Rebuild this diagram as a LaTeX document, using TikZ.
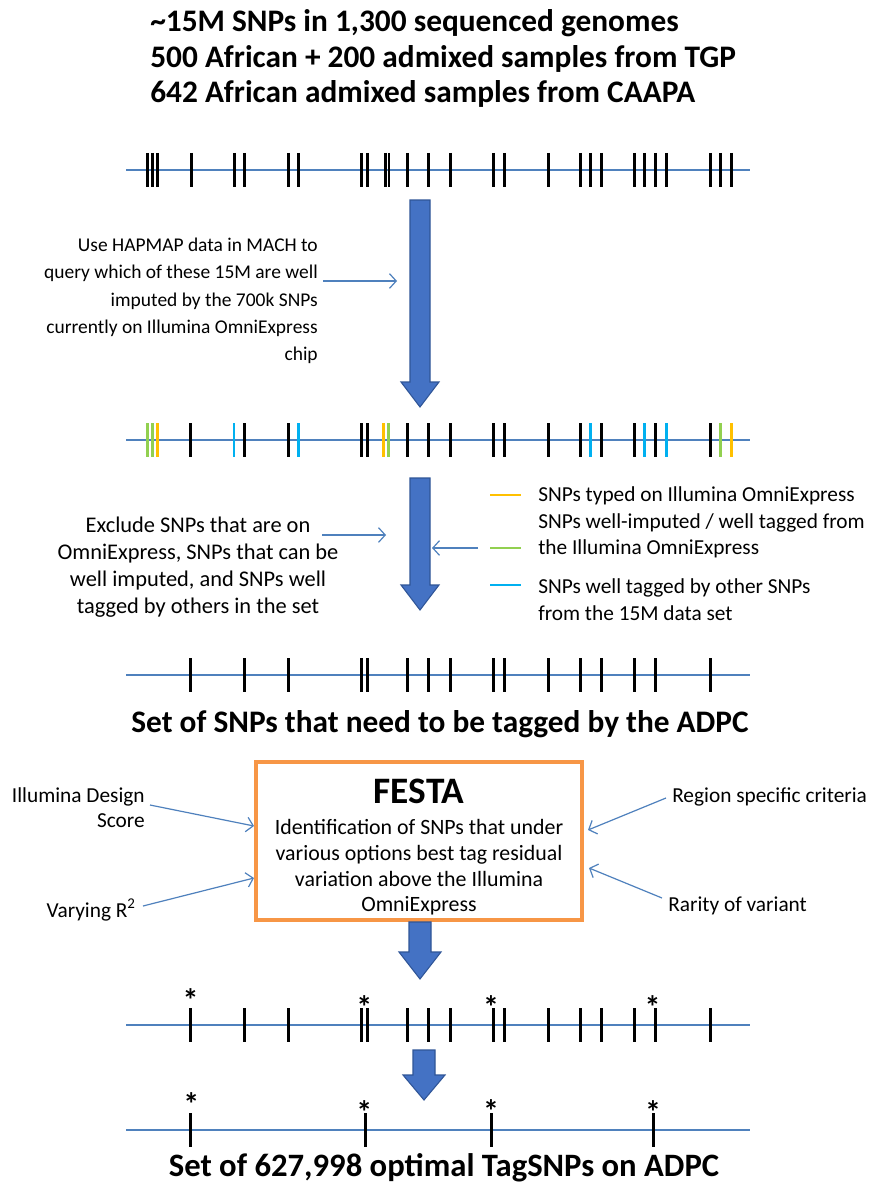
\documentclass[tikz,border=0pt]{standalone}
\usepackage{fontspec}
\setmainfont{Carlito}
\usetikzlibrary{arrows.meta}
\definecolor{snpblue}{HTML}{4F81BD}
\definecolor{arrowfill}{HTML}{4472C4}
\definecolor{arrowdraw}{HTML}{2F5597}
\definecolor{festaorange}{HTML}{F79646}
\definecolor{snpyellow}{HTML}{FFC000}
\definecolor{snpgreen}{HTML}{92D050}
\definecolor{snpcyan}{HTML}{00B0F0}
\newcommand\bigdownarrow[6]{%
  \draw[bigarrow] ({#1-#5},#2) -- ({#1+#5},#2) -- ({#1+#5},#3) -- ({#1+#6},#3)
    -- (#1,#4) -- ({#1-#6},#3) -- ({#1-#5},#3) -- cycle;}
\begin{document}
\begin{tikzpicture}[x=0.75pt,y=-0.75pt,
  body/.style={font=\fontsize{14.6pt}{20.4pt}\selectfont, inner sep=0pt},
  label/.style={font=\fontsize{16pt}{18.8pt}\selectfont, inner sep=0pt},
  headline/.style={font=\fontsize{23.5pt}{26.6pt}\selectfont\bfseries, inner sep=0pt},
  chrom/.style={snpblue, line width=1.9pt},
  snptick/.style={line width=2.2pt},
  thinarrow/.style={snpblue, line width=0.9pt, -{Straight Barb[length=5pt,width=11pt]}},
  bigarrow/.style={fill=arrowfill, draw=arrowdraw, line width=0.8pt},
  star/.style={font=\fontsize{24pt}{24pt}\selectfont\bfseries, inner sep=0pt, anchor=base}
]
\useasboundingbox (0,0) rectangle (870,1184);
\fill[white] (0,0) rectangle (870,1184);

% top title
\node[headline, anchor=west, align=left] (title) at (150,58.5)
  {\textasciitilde 15M SNPs in 1,300 sequenced genomes\\500 African + 200 admixed samples from TGP\\642 African admixed samples from CAAPA};

% line 1
\draw[chrom] (126,170) -- (750,170);
\foreach \p in {65,78,90,172,277,302,408,434,587,601,646,654,698,751,804,909,935,1042,1120,1146,1172,1252,1278,1304,1330,1437,1463,1489}
  \draw[snptick] ({127+(\p-15)*0.41},153) -- ({127+(\p-15)*0.41},187);

% arrow 1
\bigdownarrow{420}{200}{382}{407}{10}{19}
\node[body, anchor=east, align=right] (hapmap) at (318,301)
  {Use HAPMAP data in MACH to\\query which of these 15M are well\\imputed by the 700k SNPs\\currently on Illumina OmniExpress\\chip};
\coordinate (hapS) at (323,281);
\coordinate (hapE) at (397,281);
\draw[thinarrow] (hapS) -- (hapE);

% line 2
\draw[chrom] (126,440) -- (750,440);
\foreach \p/\c in {65/snpgreen,77/snpgreen,89/snpyellow,170/black,276/snpcyan,302/black,408/black,434/snpcyan,587/black,601/black,641/snpyellow,653/snpgreen,698/black,751/black,804/black,909/black,935/black,1042/black,1120/black,1146/snpcyan,1172/black,1252/black,1278/snpcyan,1304/black,1330/snpcyan,1437/black,1463/snpgreen,1489/snpyellow}
  \draw[snptick, draw=\c] ({127+(\p-15)*0.41},423) -- ({127+(\p-15)*0.41},457);

% arrow 2
\bigdownarrow{420}{478}{585}{610}{10}{19}
\node[inner sep=0pt, align=center, font=\fontsize{16.8pt}{20.3pt}\selectfont] (exclude) at (198,567)
  {Exclude SNPs that are on\\OmniExpress, SNPs that can be\\well imputed, and SNPs well\\tagged by others in the set};
\coordinate (exS) at (322,535);
\coordinate (exE) at (386,535);
\draw[thinarrow] (exS) -- (exE);

% legend
\draw[snpyellow, line width=1.8pt] (490,495) -- (521,495);
\draw[snpgreen, line width=1.8pt] (490,548) -- (521,548);
\draw[snpcyan, line width=1.8pt] (490,585) -- (521,585);
\node[label, anchor=west, align=left, font=\fontsize{16pt}{19.9pt}\selectfont] (leg1) at (538,522.5)
  {SNPs typed on Illumina OmniExpress\\SNPs well-imputed / well tagged from\\the Illumina OmniExpress};
\node[label, anchor=west, align=left, font=\fontsize{16pt}{20.2pt}\selectfont] (leg2) at (538,599.5)
  {SNPs well tagged by other SNPs\\from the 15M data set};
\coordinate (legS) at (478,548);
\coordinate (legE) at (432,548);
\draw[thinarrow] (legS) -- (legE);

% line 3
\draw[chrom] (126,675) -- (750,675);
\foreach \p in {170,302,408,587,601,698,751,804,909,935,1042,1120,1172,1252,1304,1437}
  \draw[snptick] ({127+(\p-15)*0.41},658) -- ({127+(\p-15)*0.41},692);

\node[headline, anchor=center] (need) at (440,724) {Set of SNPs that need to be tagged by the ADPC};

% FESTA box
\node[draw=festaorange, line width=2.3pt, minimum width=244.5pt, minimum height=118.5pt, inner sep=0pt] (festa) at (419,841) {};
\node[inner sep=0pt, font=\fontsize{28pt}{28pt}\selectfont\bfseries] (festaT) at (419,791) {FESTA};
\node[label, align=center, font=\fontsize{16.4pt}{19.3pt}\selectfont] (festaB) at (419,867.5)
  {Identification of SNPs that under\\various options best tag residual\\variation above the Illumina\\OmniExpress};

\node[label, anchor=east, align=right] (design) at (145,808) {Illumina Design\\Score};
\node[label, anchor=east] (rsq) at (136,910) {Varying R\textsuperscript{2}};
\node[label, anchor=west] (region) at (672,797) {Region specific criteria};
\node[label, anchor=west] (rarity) at (668,906) {Rarity of variant};
\coordinate (dS) at (150,805);  \coordinate (dE) at (254,826);
\coordinate (rS) at (143,906);  \coordinate (rE) at (254,878);
\coordinate (gS) at (666,798);  \coordinate (gE) at (588,830);
\coordinate (vS) at (662,898);  \coordinate (vE) at (589,868);
\draw[thinarrow] (dS) -- (dE);
\draw[thinarrow] (rS) -- (rE);
\draw[thinarrow] (gS) -- (gE);
\draw[thinarrow] (vS) -- (vE);

% arrow 3
\bigdownarrow{420}{922}{952}{979}{11}{21}

% line 4
\draw[chrom] (126,1025) -- (750,1025);
\foreach \p in {170,302,408,587,601,698,751,804,909,935,1042,1120,1172,1252,1304,1437}
  \draw[snptick] ({127+(\p-15)*0.41},1008) -- ({127+(\p-15)*0.41},1042);
\node[star] (s41) at ({127+(170-15)*0.41},1011) {*};
\node[star] (s42) at ({127+(594-15)*0.41},1018) {*};
\node[star] (s43) at ({127+(903-15)*0.41},1018) {*};
\node[star] (s44) at ({127+(1297-15)*0.41},1018) {*};

% arrow 4
\bigdownarrow{424}{1050}{1075}{1100}{11}{21}

% line 5
\draw[chrom] (126,1130) -- (750,1130);
\foreach \p in {170,597,905,1300}
  \draw[snptick] ({127+(\p-15)*0.41},1113) -- ({127+(\p-15)*0.41},1147);
\node[star] (s51) at ({127+(172-15)*0.41},1115) {*};
\node[star] (s52) at ({127+(594-15)*0.41},1123) {*};
\node[star] (s53) at ({127+(903-15)*0.41},1122) {*};
\node[star] (s54) at ({127+(1298-15)*0.41},1123) {*};

\node[headline, anchor=center, font=\fontsize{24.5pt}{26pt}\selectfont\bfseries] (final) at (444,1168) {Set of 627,998 optimal TagSNPs on ADPC};
\end{tikzpicture}
\end{document}
